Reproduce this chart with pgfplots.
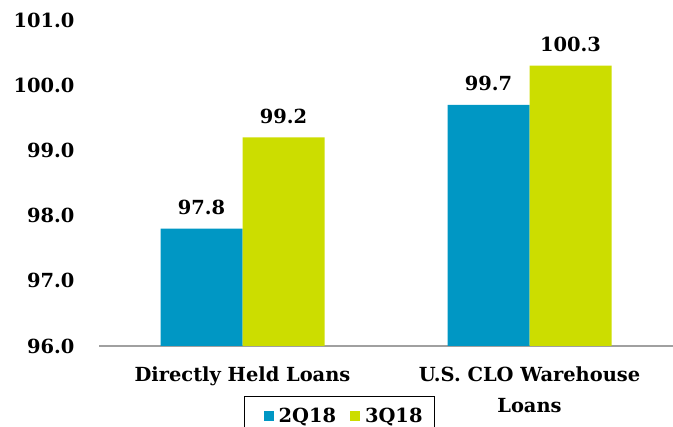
\documentclass[border=0pt]{standalone}
\usepackage{pgfplots}
\pgfplotsset{compat=1.18}
\usepackage{fontspec}
\setmainfont{DejaVu Serif}
\definecolor{cblue}{RGB}{0,151,196}
\definecolor{cgreen}{RGB}{204,221,0}
\definecolor{axgray}{RGB}{160,160,160}
\pgfplotsset{
  legimgA/.style={legend image code/.code={\path (0bp,0bp); \fill[##1] (9bp,-5bp) rectangle (19bp,5bp);}},
  legimgB/.style={legend image code/.code={\fill[##1] (0bp,-5bp) rectangle (10bp,5bp);}},
}
\begin{document}
\begin{tikzpicture}
\begin{scope}
\clip (0,0) rectangle (673bp,427bp);
\begin{axis}[
  at={(99bp,81bp)}, anchor=south west,
  scale only axis, width=574bp, height=326bp,
  ymin=96, ymax=101, ytick={96,97,98,99,100,101},
  xmin=-0.5, xmax=1.5, xtick={0,1},
  xticklabels={Directly Held Loans,{U.S. CLO Warehouse\\Loans}},
  ybar=0pt, bar width=82bp,
  axis x line*=bottom, axis y line*=left,
  y axis line style={draw=none},
  x axis line style={draw=axgray, line width=1.5bp, -},
  major tick length=0pt,
  /pgf/number format/assume math mode=true,
  /pgf/number format/.cd, fixed, fixed zerofill, precision=1, /pgfplots/.cd,
  yticklabel style={font=\bfseries\fontsize{19.5}{22}\selectfont, xshift=-21bp},
  xticklabel style={font=\bfseries\fontsize{19.5}{31}\selectfont, align=center, yshift=-17bp},
  nodes near coords,
  every node near coord/.append style={font=\bfseries\fontsize{19.5}{22}\selectfont, yshift=10bp,
     /pgf/number format/fixed, /pgf/number format/fixed zerofill, /pgf/number format/precision=1},
  legend columns=2,
  legend style={at={(0.2526,-0.153)}, anchor=north west, draw=black, line width=1.2bp,
     font=\bfseries\fontsize{19.5}{22}\selectfont, inner xsep=10bp, inner ysep=10bp,
     /tikz/every odd column/.append style={column sep=3bp},
     /tikz/every even column/.append style={column sep=12bp}},
]
\addplot[fill=cblue, draw=none, legimgA] coordinates {(0,97.8) (1,99.7)};
\addplot[fill=cgreen, draw=none, legimgB] coordinates {(0,99.2) (1,100.3)};
\legend{2Q18,3Q18}
\end{axis}
\end{scope}
\pgfresetboundingbox
\path[use as bounding box] (0,0) rectangle (673bp,427bp);
\end{tikzpicture}
\end{document}
